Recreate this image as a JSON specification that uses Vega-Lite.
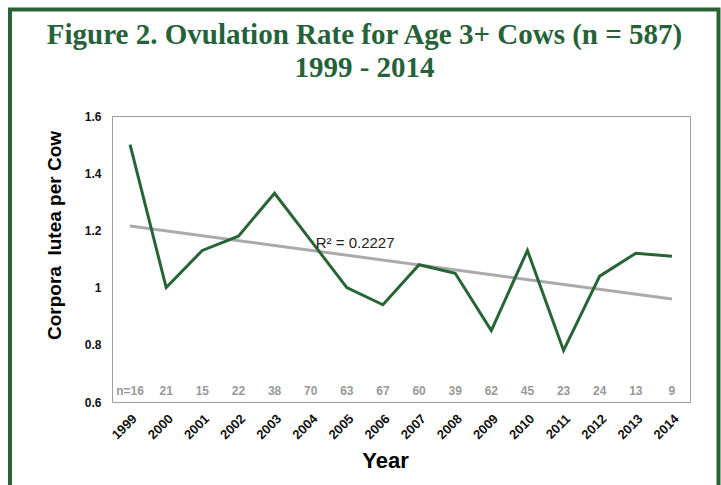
{
  "$schema": "https://vega.github.io/schema/vega-lite/v6.json",
  "autosize": {"type": "none"},
  "padding": {"left": 112, "top": 116, "right": 31, "bottom": 83},
  "width": 578,
  "height": 286,
  "background": "white",
  "title": {
    "text": ["Figure 2. Ovulation Rate for Age 3+ Cows (n = 587)", "1999 - 2014"],
    "font": "Liberation Serif",
    "fontWeight": "bold",
    "fontSize": 29,
    "lineHeight": 33,
    "color": "#25623a",
    "anchor": "middle",
    "frame": "group",
    "dx": -36.5,
    "offset": 0,
    "dy": 76
  },
  "data": {
    "values": [
      {"Year": 1999, "rate": 1.5, "n": 16},
      {"Year": 2000, "rate": 1.0, "n": 21},
      {"Year": 2001, "rate": 1.13, "n": 15},
      {"Year": 2002, "rate": 1.18, "n": 22},
      {"Year": 2003, "rate": 1.33, "n": 38},
      {"Year": 2004, "rate": 1.165, "n": 70},
      {"Year": 2005, "rate": 1.0, "n": 63},
      {"Year": 2006, "rate": 0.94, "n": 67},
      {"Year": 2007, "rate": 1.08, "n": 60},
      {"Year": 2008, "rate": 1.05, "n": 39},
      {"Year": 2009, "rate": 0.85, "n": 62},
      {"Year": 2010, "rate": 1.13, "n": 45},
      {"Year": 2011, "rate": 0.78, "n": 23},
      {"Year": 2012, "rate": 1.04, "n": 24},
      {"Year": 2013, "rate": 1.12, "n": 13},
      {"Year": 2014, "rate": 1.11, "n": 9}
    ]
  },
  "layer": [
    {
      "data": {"values": [{}]},
      "mark": {"type": "rect", "fill": null, "stroke": "#2a6137", "strokeWidth": 4, "clip": false},
      "encoding": {
        "x": {
          "datum": 1995.676,
          "type": "quantitative",
          "scale": {"domain": [1998.5, 2014.5], "nice": false, "zero": false},
          "axis": {"title": "Year", "values": [1999, 2000, 2001, 2002, 2003, 2004, 2005, 2006, 2007, 2008, 2009, 2010, 2011, 2012, 2013, 2014], "format": "d", "labelAngle": -45, "labelFontSize": 13, "labelFontWeight": "bold", "labelPadding": 10, "labelOverlap": false, "grid": false, "ticks": false, "domain": false, "titleFontSize": 22, "titleX": 273, "titleY": 65, "titleBaseline": "alphabetic"}
        },
        "x2": {"datum": 2015.289},
        "y": {
          "datum": 1.9724,
          "type": "quantitative",
          "scale": {"domain": [0.6, 1.6], "nice": false, "zero": false},
          "axis": {"title": "Corpora\u00a0 lutea per Cow", "values": [0.6, 0.8, 1.0, 1.2, 1.4, 1.6], "format": "~g", "labelFontSize": 12, "labelFontWeight": "bold", "labelPadding": 11, "ticks": false, "domain": false, "gridColor": "#a6a6a6", "titleFontSize": 19, "titleX": -58, "titleY": 119, "titleBaseline": "middle"}
        },
        "y2": {"datum": 0.2678}
      }
    },
    {
      "mark": {"type": "line", "color": "#aaaaaa", "strokeWidth": 3},
      "transform": [{"regression": "rate", "on": "Year"}],
      "encoding": {
        "x": {
          "field": "Year",
          "type": "quantitative",
          "axis": {"title": "Year", "values": [1999, 2000, 2001, 2002, 2003, 2004, 2005, 2006, 2007, 2008, 2009, 2010, 2011, 2012, 2013, 2014], "format": "d", "labelAngle": -45, "labelFontSize": 13, "labelFontWeight": "bold", "labelPadding": 10, "labelOverlap": false, "grid": false, "ticks": false, "domain": false, "titleFontSize": 22, "titleX": 273, "titleY": 65, "titleBaseline": "alphabetic"}
        },
        "y": {
          "field": "rate",
          "type": "quantitative",
          "axis": {"title": "Corpora\u00a0 lutea per Cow", "values": [0.6, 0.8, 1.0, 1.2, 1.4, 1.6], "format": "~g", "labelFontSize": 12, "labelFontWeight": "bold", "labelPadding": 11, "ticks": false, "domain": false, "gridColor": "#a6a6a6", "titleFontSize": 19, "titleX": -58, "titleY": 119, "titleBaseline": "middle"}
        }
      }
    },
    {
      "mark": {"type": "line", "color": "#276436", "strokeWidth": 3},
      "encoding": {
        "x": {
          "field": "Year",
          "type": "quantitative",
          "axis": {"title": "Year", "values": [1999, 2000, 2001, 2002, 2003, 2004, 2005, 2006, 2007, 2008, 2009, 2010, 2011, 2012, 2013, 2014], "format": "d", "labelAngle": -45, "labelFontSize": 13, "labelFontWeight": "bold", "labelPadding": 10, "labelOverlap": false, "grid": false, "ticks": false, "domain": false, "titleFontSize": 22, "titleX": 273, "titleY": 65, "titleBaseline": "alphabetic"}
        },
        "y": {
          "field": "rate",
          "type": "quantitative",
          "axis": {"title": "Corpora\u00a0 lutea per Cow", "values": [0.6, 0.8, 1.0, 1.2, 1.4, 1.6], "format": "~g", "labelFontSize": 12, "labelFontWeight": "bold", "labelPadding": 11, "ticks": false, "domain": false, "gridColor": "#a6a6a6", "titleFontSize": 19, "titleX": -58, "titleY": 119, "titleBaseline": "middle"}
        }
      }
    },
    {
      "transform": [{"calculate": "datum.Year == 1999 ? 'n=' + datum.n : '' + datum.n", "as": "nLabel"}],
      "mark": {"type": "text", "fontSize": 12, "fontWeight": "bold", "color": "#999999", "baseline": "middle"},
      "encoding": {
        "x": {
          "field": "Year",
          "type": "quantitative",
          "axis": {"title": "Year", "values": [1999, 2000, 2001, 2002, 2003, 2004, 2005, 2006, 2007, 2008, 2009, 2010, 2011, 2012, 2013, 2014], "format": "d", "labelAngle": -45, "labelFontSize": 13, "labelFontWeight": "bold", "labelPadding": 10, "labelOverlap": false, "grid": false, "ticks": false, "domain": false, "titleFontSize": 22, "titleX": 273, "titleY": 65, "titleBaseline": "alphabetic"}
        },
        "y": {
          "datum": 0.638,
          "type": "quantitative",
          "axis": {"title": "Corpora\u00a0 lutea per Cow", "values": [0.6, 0.8, 1.0, 1.2, 1.4, 1.6], "format": "~g", "labelFontSize": 12, "labelFontWeight": "bold", "labelPadding": 11, "ticks": false, "domain": false, "gridColor": "#a6a6a6", "titleFontSize": 19, "titleX": -58, "titleY": 119, "titleBaseline": "middle"}
        },
        "text": {"field": "nLabel"}
      }
    },
    {
      "data": {"values": [{"label": "R² = 0.2227", "Year": 2004.14, "rate": 1.156}]},
      "mark": {"type": "text", "fontSize": 15, "color": "#222222", "align": "left", "baseline": "middle"},
      "encoding": {
        "x": {
          "field": "Year",
          "type": "quantitative",
          "axis": {"title": "Year", "values": [1999, 2000, 2001, 2002, 2003, 2004, 2005, 2006, 2007, 2008, 2009, 2010, 2011, 2012, 2013, 2014], "format": "d", "labelAngle": -45, "labelFontSize": 13, "labelFontWeight": "bold", "labelPadding": 10, "labelOverlap": false, "grid": false, "ticks": false, "domain": false, "titleFontSize": 22, "titleX": 273, "titleY": 65, "titleBaseline": "alphabetic"}
        },
        "y": {
          "field": "rate",
          "type": "quantitative",
          "axis": {"title": "Corpora\u00a0 lutea per Cow", "values": [0.6, 0.8, 1.0, 1.2, 1.4, 1.6], "format": "~g", "labelFontSize": 12, "labelFontWeight": "bold", "labelPadding": 11, "ticks": false, "domain": false, "gridColor": "#a6a6a6", "titleFontSize": 19, "titleX": -58, "titleY": 119, "titleBaseline": "middle"}
        },
        "text": {"field": "label"}
      }
    }
  ],
  "config": {
    "font": "Liberation Sans",
    "view": {"stroke": "#9e9e9e", "strokeWidth": 1},
    "axis": {
      "labelColor": "#111111",
      "titleColor": "#000000",
      "titleFontWeight": "bold",
      "labelFont": "Liberation Sans",
      "titleFont": "Liberation Sans"
    }
  }
}
